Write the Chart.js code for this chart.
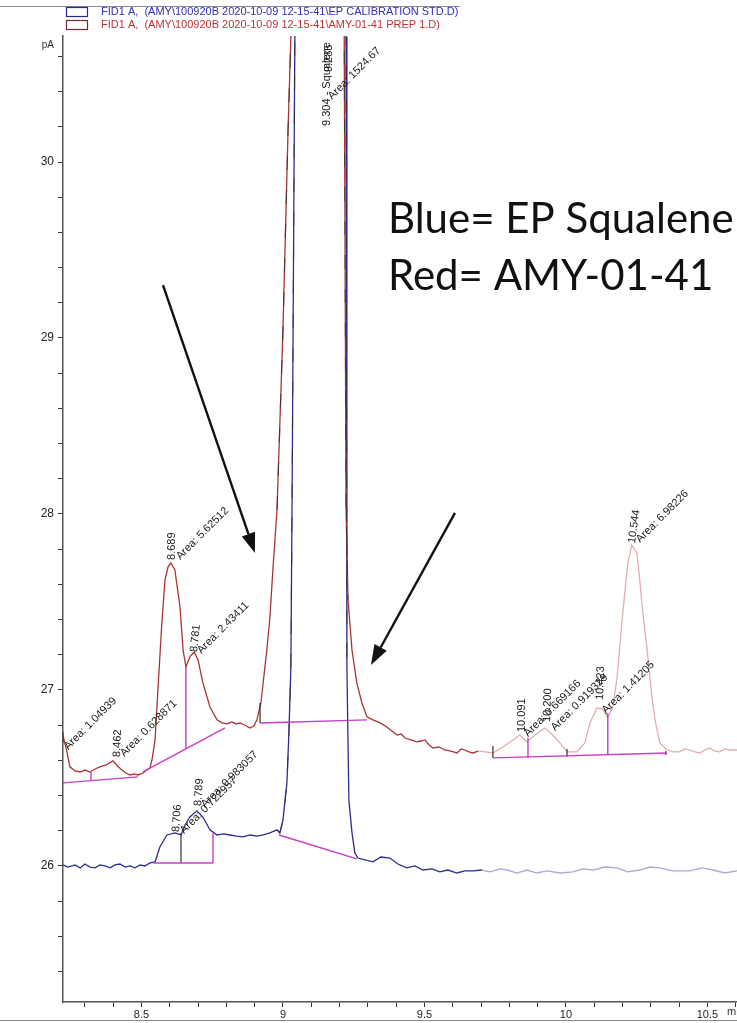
<!DOCTYPE html>
<html>
<head>
<meta charset="utf-8">
<script src="https://cdn.jsdelivr.net/npm/chart.js@4.4.1/dist/chart.umd.min.js"></script>
<style>
  html, body { margin: 0; padding: 0; background: #fff; overflow: hidden; }
  #wrap { width: 760px; height: 1023px; }
</style>
</head>
<body>
<div id="wrap"><canvas id="chromChart" width="760" height="1023"></canvas></div>
<script>
// axis ranges (min, pA)
const timeRange = [8.2226, 10.686];
const signalRange = [25.227, 30.716];

const legendTexts = [
    "FID1 A,  (AMY\\100920B 2020-10-09 12-15-41\\EP CALIBRATION STD.D)",
    "FID1 A,  (AMY\\100920B 2020-10-09 12-15-41\\AMY-01-41 PREP 1.D)"
];

// traces: [time, pA]
const redTrace = [
    [8.2226, 26.74], [8.235, 26.66], [8.247, 26.563], [8.265, 26.540], [8.283, 26.534], [8.300, 26.545],
    [8.318, 26.534], [8.336, 26.551], [8.353, 26.563], [8.375, 26.574], [8.399, 26.597], [8.415, 26.568],
    [8.431, 26.545], [8.445, 26.528], [8.459, 26.517], [8.474, 26.523], [8.488, 26.517], [8.505, 26.528],
    [8.519, 26.545], [8.530, 26.557], [8.537, 26.602], [8.548, 26.716], [8.558, 27.0], [8.572, 27.381],
    [8.583, 27.625], [8.594, 27.700], [8.604, 27.722], [8.618, 27.682], [8.636, 27.472], [8.647, 27.227],
    [8.657, 27.131], [8.671, 27.188], [8.686, 27.216], [8.700, 27.170], [8.717, 27.040], [8.742, 26.903],
    [8.767, 26.830], [8.785, 26.813], [8.802, 26.807], [8.820, 26.818], [8.835, 26.807], [8.848, 26.813],
    [8.865, 26.801], [8.883, 26.784], [8.897, 26.795], [8.908, 26.830], [8.922, 26.926], [8.943, 27.227],
    [8.954, 27.415], [8.965, 27.699], [8.979, 28.023], [9.000, 29.045], [9.018, 30.182], [9.028, 30.710],
    [9.035, 31.5], [9.215, 31.5], [9.2165, 30.71], [9.223, 28.023], [9.230, 27.511], [9.244, 27.227],
    [9.261, 27.040], [9.279, 26.926], [9.297, 26.847], [9.318, 26.830], [9.343, 26.813], [9.367, 26.790],
    [9.385, 26.767], [9.403, 26.744], [9.418, 26.750], [9.431, 26.727], [9.452, 26.716], [9.473, 26.705],
    [9.488, 26.710], [9.502, 26.716], [9.516, 26.688], [9.530, 26.670], [9.551, 26.676], [9.572, 26.659],
    [9.594, 26.653], [9.615, 26.642], [9.630, 26.665], [9.643, 26.659], [9.657, 26.648], [9.671, 26.642],
    [9.690, 26.653], [9.715, 26.648], [9.742, 26.642], [9.777, 26.676], [9.813, 26.716], [9.837, 26.744],
    [9.862, 26.705], [9.895, 26.750], [9.926, 26.784], [9.950, 26.750], [9.979, 26.699], [10.004, 26.648],
    [10.039, 26.648], [10.067, 26.699], [10.085, 26.812], [10.110, 26.898], [10.131, 26.890], [10.148, 26.841],
    [10.165, 26.900], [10.180, 27.057], [10.201, 27.438], [10.219, 27.722], [10.233, 27.824], [10.251, 27.778],
    [10.261, 27.625], [10.272, 27.438], [10.286, 27.244], [10.304, 26.960], [10.315, 26.830], [10.332, 26.699],
    [10.357, 26.659], [10.380, 26.648], [10.403, 26.648], [10.420, 26.665], [10.438, 26.659], [10.455, 26.648],
    [10.473, 26.642], [10.490, 26.659], [10.509, 26.670], [10.527, 26.653], [10.544, 26.648], [10.562, 26.665],
    [10.580, 26.659], [10.604, 26.659], [10.630, 26.653], [10.660, 26.665], [10.686, 26.659]
];

const blueTrace = [
    [8.2226, 26.006], [8.240, 25.994], [8.265, 26.006], [8.283, 25.989], [8.300, 26.011], [8.318, 25.994],
    [8.336, 25.989], [8.353, 26.006], [8.371, 26.000], [8.389, 25.989], [8.406, 26.006], [8.424, 26.011],
    [8.442, 25.994], [8.460, 26.000], [8.477, 25.989], [8.495, 26.006], [8.512, 26.000], [8.530, 26.017],
    [8.548, 26.023], [8.565, 26.108], [8.590, 26.176], [8.618, 26.188], [8.640, 26.176], [8.654, 26.233],
    [8.671, 26.278], [8.696, 26.313], [8.717, 26.278], [8.742, 26.205], [8.767, 26.176], [8.790, 26.182],
    [8.813, 26.176], [8.836, 26.170], [8.859, 26.165], [8.884, 26.176], [8.908, 26.170], [8.930, 26.176],
    [8.954, 26.188], [8.979, 26.205], [8.989, 26.188], [9.000, 26.261], [9.014, 26.472], [9.021, 26.756],
    [9.028, 27.131], [9.032, 28.023], [9.042, 30.710], [9.046, 31.5], [9.219, 31.5], [9.223, 30.710],
    [9.226, 27.131], [9.233, 26.375], [9.244, 26.188], [9.254, 26.074], [9.265, 26.045], [9.290, 26.034],
    [9.318, 26.023], [9.346, 26.051], [9.378, 26.045], [9.406, 26.011], [9.438, 25.989], [9.466, 26.000],
    [9.495, 25.977], [9.527, 25.983], [9.554, 25.966], [9.583, 25.977], [9.615, 25.960], [9.643, 25.972],
    [9.671, 25.972], [9.703, 25.977], [9.731, 25.966], [9.767, 25.983], [9.792, 25.977], [9.827, 25.960],
    [9.862, 25.977], [9.898, 25.960], [9.933, 25.972], [9.979, 25.960], [10.025, 25.966], [10.060, 25.983],
    [10.095, 25.977], [10.138, 25.994], [10.180, 25.989], [10.219, 25.966], [10.261, 25.977], [10.297, 25.994],
    [10.332, 25.989], [10.378, 25.972], [10.438, 25.972], [10.481, 25.989], [10.520, 25.977], [10.562, 25.960],
    [10.604, 25.972], [10.645, 25.983], [10.686, 25.972]
];
const fadeAfter = 9.69;          // both traces are drawn pale after this time
const flankWindow = [8.975, 9.23]; // steep sides of the main peak get dark dashes

// integration baselines and drop lines
const baselines = [
    [[8.2226, 26.472], [8.4876, 26.506]],
    [[8.5053, 26.534], [8.795, 26.784]],
    [[8.919, 26.8125], [9.297, 26.830]],
    [[9.742, 26.614], [10.357, 26.642]],
    [[8.541, 26.017], [8.753, 26.017]],
    [[8.986, 26.176], [9.261, 26.040]]
];
const magentaDrops = [
    [8.3216, 26.540, 26.489], [8.657, 27.131, 26.665], [9.866, 26.727, 26.614],
    [10.148, 26.869, 26.631], [8.7527, 26.1875, 26.017]
];
const darkDrops = [
    [8.919, 26.926, 26.8125], [8.6396, 26.1875, 26.017], [9.742, 26.682, 26.614],
    [10.004, 26.665, 26.620], [10.353, 26.653, 26.631], [8.2226, 26.76, 26.70]
];

// peak annotations: [time, pA, text, angle]
const peakLabels = [
    [8.2332, 26.670, "Area: 1.04939", -45],
    [8.4134, 26.619, "8.462", -88],
    [8.4311, 26.631, "Area: 0.628871", -45],
    [8.6078, 27.739, "8.689", -90],
    [8.629, 27.750, "Area: 5.62512", -45],
    [8.6855, 27.216, "8.781", -84],
    [8.7032, 27.216, "Area: 2.43411", -45],
    [8.6219, 26.193, "8.706", -86],
    [8.6431, 26.193, "Area: 0.722957", -45],
    [8.6996, 26.341, "8.789", -86],
    [8.7173, 26.341, "Area: 0.983057", -45],
    [9.1555, 30.205, "9.304 - Squalene", -90],
    [9.1626, 30.511, "9.285", -90],
    [9.1661, 30.364, "Area: 1524.67", -45],
    [9.8445, 26.761, "10.091", -90],
    [9.8587, 26.744, "Area: 0.669166", -45],
    [9.9329, 26.818, "10.200", -88],
    [9.954, 26.778, "Area: 0.919329", -45],
    [10.1201, 26.943, "10.423", -88],
    [10.1343, 26.875, "Area: 1.41205", -45],
    [10.2332, 27.835, "10.544", -82],
    [10.2544, 27.847, "Area: 6.98226", -45]
];

// hand-drawn arrows [fromTime, fromPA, toTime, toPA] and note
const arrows = [
    [8.576, 29.301, 8.901, 27.778],
    [9.608, 28.006, 9.311, 27.142]
];
const noteLines = ["Blue= EP Squalene", "Red= AMY-01-41"];
const notePos = [[9.371, 29.597], [9.371, 29.270]];

const darkRed = "#a83434", paleRed = "#e2aeae";
const darkBlue = "#2c2c96", paleBlue = "#a9a9dc";
const magenta = "#c83cc8";

const toPoints = arr => arr.map(p => ({x: p[0], y: p[1]}));
const inFlank = p => p[0] >= flankWindow[0] && p[0] <= flankWindow[1];

const datasets = [];
baselines.forEach(seg => {
    datasets.push({data: toPoints(seg), borderColor: magenta, borderWidth: 1.4});
});
magentaDrops.forEach(d => {
    datasets.push({data: [{x: d[0], y: d[1]}, {x: d[0], y: d[2]}], borderColor: magenta, borderWidth: 1.4});
});
darkDrops.forEach(d => {
    datasets.push({data: [{x: d[0], y: d[1]}, {x: d[0], y: d[2]}], borderColor: "#333", borderWidth: 1.2});
});
[redTrace, blueTrace].forEach(tr => {
    datasets.push({
        data: toPoints(tr.filter(inFlank)), borderColor: "rgba(50,50,50,0.75)",
        borderWidth: 1.1, borderDash: [14, 20]
    });
});
datasets.push({
    data: toPoints(redTrace), borderColor: darkRed, borderWidth: 1.3,
    segment: {borderColor: c => c.p0.parsed.x >= fadeAfter ? paleRed : darkRed}
});
datasets.push({
    data: toPoints(blueTrace), borderColor: darkBlue, borderWidth: 1.3,
    segment: {borderColor: c => c.p0.parsed.x >= fadeAfter ? paleBlue : darkBlue}
});

const overlay = {
    id: "overlay",
    afterDatasetsDraw(chart) {
        const {ctx, scales: {x, y}} = chart;
        const px = t => x.getPixelForValue(t);
        const py = v => y.getPixelForValue(v);
        ctx.save();

        // page rules
        ctx.strokeStyle = "#8a8a8a";
        ctx.lineWidth = 1;
        ctx.beginPath(); ctx.moveTo(0, 6.5); ctx.lineTo(460, 6.5); ctx.stroke();
        ctx.beginPath(); ctx.moveTo(0, 1020.5); ctx.lineTo(760, 1020.5); ctx.stroke();

        // legend
        const legendColors = [["#2a2a90", "#3030b8"], ["#7a2a2a", "#c03232"]];
        ctx.font = "11px 'Liberation Sans', Arial, sans-serif";
        ctx.textBaseline = "middle";
        ctx.textAlign = "left";
        legendTexts.forEach((txt, i) => {
            const yy = 12 + i * 13;
            ctx.strokeStyle = legendColors[i][0];
            ctx.lineWidth = 1.2;
            ctx.strokeRect(66.5, yy - 4.5, 21, 9);
            ctx.fillStyle = legendColors[i][1];
            ctx.fillText(txt, 101, yy);
        });

        // axis units
        ctx.fillStyle = "#333";
        ctx.font = "10px 'Liberation Sans', Arial, sans-serif";
        ctx.textAlign = "right";
        ctx.fillText("pA", 54, 45);
        ctx.font = "11px 'Liberation Sans', Arial, sans-serif";
        ctx.textAlign = "left";
        ctx.fillText("min", 727, 1012);

        // peak labels
        ctx.fillStyle = "#1a1a1a";
        ctx.font = "11px 'Liberation Sans', Arial, sans-serif";
        ctx.textBaseline = "middle";
        peakLabels.forEach(([t, v, txt, ang]) => {
            ctx.save();
            ctx.translate(px(t), py(v));
            ctx.rotate(ang * Math.PI / 180);
            ctx.fillText(txt, 0, 0);
            ctx.restore();
        });

        // arrows
        ctx.strokeStyle = "#111";
        ctx.fillStyle = "#111";
        ctx.lineWidth = 2.4;
        arrows.forEach(([t0, v0, t1, v1]) => {
            const x0 = px(t0), y0 = py(v0), x1 = px(t1), y1 = py(v1);
            const a = Math.atan2(y1 - y0, x1 - x0);
            const headLen = 20, headW = 7;
            const bx = x1 - headLen * Math.cos(a), by = y1 - headLen * Math.sin(a);
            ctx.beginPath(); ctx.moveTo(x0, y0); ctx.lineTo(bx, by); ctx.stroke();
            ctx.beginPath();
            ctx.moveTo(x1, y1);
            ctx.lineTo(bx + headW * Math.sin(a), by - headW * Math.cos(a));
            ctx.lineTo(bx - headW * Math.sin(a), by + headW * Math.cos(a));
            ctx.closePath(); ctx.fill();
        });

        // note
        ctx.fillStyle = "#111";
        ctx.font = "42px Lato, 'Open Sans', sans-serif";
        ctx.textBaseline = "alphabetic";
        noteLines.forEach((txt, i) => {
            ctx.fillText(txt, px(notePos[i][0]), py(notePos[i][1]));
        });
        ctx.restore();
    }
};

Chart.defaults.font.family = "'Liberation Sans', Arial, sans-serif";

new Chart(document.getElementById("chromChart"), {
    type: "line",
    data: {datasets: datasets},
    options: {
        responsive: false,
        devicePixelRatio: 1,
        animation: false,
        layout: {padding: {top: 36, left: 0, right: 0, bottom: 0}},
        elements: {point: {radius: 0}, line: {tension: 0, fill: false}},
        plugins: {legend: {display: false}, tooltip: {enabled: false}},
        scales: {
            x: {
                type: "linear",
                min: timeRange[0],
                max: timeRange[1],
                afterFit: s => { s.height = 21; },
                border: {display: true, color: "#555", width: 1.5},
                grid: {drawOnChartArea: false, drawTicks: true, tickLength: 5, color: "#333"},
                ticks: {
                    stepSize: 0.1,
                    autoSkip: false,
                    includeBounds: false,
                    maxRotation: 0,
                    minRotation: 0,
                    padding: 1,
                    color: "#222",
                    font: {size: 11},
                    callback: v => {
                        const k = Math.round(v * 10);
                        return k % 5 === 0 ? String(k / 10) : "";
                    }
                }
            },
            y: {
                type: "linear",
                min: signalRange[0],
                max: signalRange[1],
                afterFit: s => { s.width = 63; },
                border: {display: true, color: "#555", width: 1.5},
                grid: {drawOnChartArea: false, drawTicks: true, tickLength: 5, color: "#333"},
                ticks: {
                    stepSize: 0.2,
                    autoSkip: false,
                    includeBounds: false,
                    padding: 4,
                    color: "#222",
                    font: {size: 12},
                    callback: v => {
                        const k = Math.round(v * 5);
                        return k % 5 === 0 ? String(k / 5) : "";
                    }
                }
            }
        }
    },
    plugins: [overlay]
});
</script>
</body>
</html>
